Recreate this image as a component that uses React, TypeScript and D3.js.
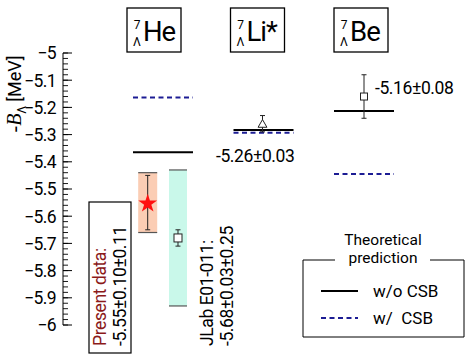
import React from 'react';
import * as d3 from 'd3';

// hypernuclei, level energies -B_Lambda in MeV
const nuclei = ['He', 'Li*', 'Be'];
const withoutCSB = [-5.365, -5.283, -5.213];
const withCSB = [-5.164, -5.293, -5.445];

// 7He measurements
const present = { value: -5.55, stat: 0.10, syst: 0.11 };
const jlab = { value: -5.68, stat: 0.03, syst: 0.25 };
// 7Li* and 7Be measurements
const liMeas = { value: -5.26, err: 0.03 };
const beMeas = { value: -5.16, err: 0.08 };

const yDomain = [-5, -6];

const FONT = 'Roboto, "Noto Sans", sans-serif';
const W = 469;
const H = 357;

const App = () => {
  const y = d3.scaleLinear().domain(yDomain).range([53, 325]);
  const x = d3.scaleBand().domain(nuclei).range([133, 394]).paddingInner(0.403);
  const bw = x.bandwidth();
  const cx = (n: string) => (x(n) as number) + bw / 2;

  const major = y.ticks(10);
  const minor = y.ticks(50);
  const axisX = 63;

  const star = d3.symbol().type(d3.symbolStar).size(110)();
  const tri = d3.symbol().type(d3.symbolTriangle).size(34)();

  const heC = cx('He');
  const presX = heC - 15.3;
  const jlabX = heC + 15;
  const liX = cx('Li*') - 1;
  const beX = cx('Be');

  const headerOffset = [-3, 0, 3];

  return (
    <svg width={W} height={H} style={{ position: 'absolute', left: 0, top: 0, background: '#fff' }} fontFamily={FONT}>
      {/* y axis */}
      <line x1={axisX} x2={axisX} y1={y(-5)} y2={y(-6)} stroke="#000" strokeWidth={1} />
      {minor.map((t) => (
        <line key={'m' + t} x1={axisX} x2={axisX + 5} y1={y(t)} y2={y(t)} stroke="#000" strokeWidth={0.9} />
      ))}
      {major.map((t) => (
        <g key={'t' + t}>
          <line x1={axisX} x2={axisX + 9} y1={y(t)} y2={y(t)} stroke="#000" strokeWidth={1} />
          <text x={axisX - 7} y={y(t)} dy="0.36em" textAnchor="end" fontSize={17.5} letterSpacing={-0.6}>
            {d3.format('')(+t.toFixed(1))}
          </text>
        </g>
      ))}
      <text transform="translate(21,94) rotate(-90)" textAnchor="middle" fontSize={18}>
        <tspan fontFamily="'Liberation Serif', serif" fontStyle="italic" fontSize={20}>-B</tspan>
        <tspan fontSize={12} dy={5}>Λ</tspan>
        <tspan dy={-5} dx={4}>[MeV]</tspan>
      </text>

      {/* header boxes */}
      {nuclei.map((n, i) => {
        const bx = (x(n) as number) + headerOffset[i] - 3;
        const name = n.replace('*', '');
        return (
          <g key={'h' + n}>
            <rect x={bx} y={8} width={54} height={44} fill="none" stroke="#000" strokeWidth={1.3} />
            <text x={bx + 10} y={29} textAnchor="middle" fontSize={12}>7</text>
            <text x={bx + 10} y={46} textAnchor="middle" fontSize={12}>Λ</text>
            <text x={bx + 16} y={41} fontSize={27.5} letterSpacing={-1}>
              {name}
              {n.endsWith('*') ? '*' : ''}
            </text>
          </g>
        );
      })}

      {/* He: present data systematic box */}
      <rect x={presX - 9.5} y={y(present.value + present.syst)} width={19}
        height={y(present.value - present.syst) - y(present.value + present.syst)} fill="#fbcdb4" />
      {[present.value + present.syst, present.value - present.syst].map((v) => (
        <line key={'ps' + v} x1={presX - 9.5} x2={presX + 9.5} y1={y(v)} y2={y(v)} stroke="#555" strokeWidth={1.2} />
      ))}
      {/* He: JLab systematic box */}
      <rect x={jlabX - 9} y={y(jlab.value + jlab.syst)} width={18}
        height={y(jlab.value - jlab.syst) - y(jlab.value + jlab.syst)} fill="#c9f8ea" />
      {[jlab.value + jlab.syst, jlab.value - jlab.syst].map((v) => (
        <line key={'js' + v} x1={jlabX - 9} x2={jlabX + 9} y1={y(v)} y2={y(v)} stroke="#555" strokeWidth={1.2} />
      ))}

      {/* theory lines */}
      {nuclei.map((n, i) => (
        <g key={'th' + n}>
          <line x1={x(n)} x2={(x(n) as number) + bw} y1={y(withCSB[i])} y2={y(withCSB[i])}
            stroke="#1c1c94" strokeWidth={2} strokeDasharray="5,3.5" />
          <line x1={x(n)} x2={(x(n) as number) + bw} y1={y(withoutCSB[i])} y2={y(withoutCSB[i])}
            stroke="#000" strokeWidth={2} />
        </g>
      ))}

      {/* error bars */}
      {[
        { px: presX, v: present.value, e: present.stat },
        { px: jlabX, v: jlab.value, e: jlab.stat },
        { px: liX, v: liMeas.value, e: liMeas.err },
        { px: beX, v: beMeas.value, e: beMeas.err },
      ].map((d, i) => (
        <g key={'e' + i} stroke="#222" strokeWidth={1}>
          <line x1={d.px} x2={d.px} y1={y(d.v + d.e)} y2={y(d.v - d.e)} />
          <line x1={d.px - 2.5} x2={d.px + 2.5} y1={y(d.v + d.e)} y2={y(d.v + d.e)} />
          <line x1={d.px - 2.5} x2={d.px + 2.5} y1={y(d.v - d.e)} y2={y(d.v - d.e)} />
        </g>
      ))}

      {/* markers */}
      <path d={star as string} transform={`translate(${presX},${y(present.value) + 1})`} fill="#ff1010" />
      <rect x={jlabX - 4} y={y(jlab.value) - 4} width={8} height={8} fill="#fff" stroke="#222" strokeWidth={1} />
      <path d={tri as string} transform={`translate(${liX},${y(liMeas.value) + 1})`} fill="#fff" stroke="#222" strokeWidth={1} />
      <rect x={beX - 3.5} y={y(beMeas.value) - 3.5} width={7} height={7} fill="#fff" stroke="#222" strokeWidth={1} />

      {/* value labels */}
      <text x={216} y={162} fontSize={17.5} letterSpacing={-0.4}>-5.26±0.03</text>
      <text x={375} y={94} fontSize={17.5} letterSpacing={-0.4}>-5.16±0.08</text>

      {/* present data label */}
      <rect x={89} y={202} width={42} height={151} fill="#fff" stroke="#000" strokeWidth={1.2} />
      <text transform="translate(106,346) rotate(-90)" fontSize={17.5} fill="#8b1a1a" letterSpacing={-0.4}>Present data:</text>
      <text transform="translate(126,346) rotate(-90)" fontSize={17.5} letterSpacing={-0.4}>-5.55±0.10±0.11</text>

      {/* JLab label */}
      <text transform="translate(213,346) rotate(-90)" fontSize={17.5} letterSpacing={-0.4}>JLab E01-011:</text>
      <text transform="translate(233,346) rotate(-90)" fontSize={17.5} letterSpacing={-0.4}>-5.68±0.03±0.25</text>

      {/* legend */}
      <g>
        <path d="M335,260 H303 V337 H464 V260 H430" fill="none" stroke="#000" strokeWidth={1} />
        <text x={383} y={245} textAnchor="middle" fontSize={15.5}>Theoretical</text>
        <text x={383} y={263} textAnchor="middle" fontSize={15.5}>prediction</text>
        <line x1={321} x2={358} y1={291} y2={291} stroke="#000" strokeWidth={2} />
        <text x={373} y={297} fontSize={17}>w/o CSB</text>
        <line x1={321} x2={358} y1={318} y2={318} stroke="#1c1c94" strokeWidth={2} strokeDasharray="5,3.5" />
        <text x={373} y={324} fontSize={17} style={{ whiteSpace: 'pre' }}>w/  CSB</text>
      </g>
    </svg>
  );
};

export default App;
